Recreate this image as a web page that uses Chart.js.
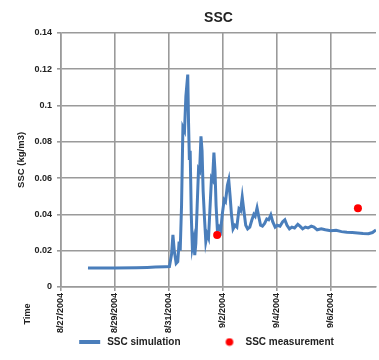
<!DOCTYPE html>
<html>
<head>
<meta charset="utf-8">
<script src="https://cdn.jsdelivr.net/npm/chart.js@4.4.1/dist/chart.umd.min.js"></script>
<style>
  html, body { margin: 0; padding: 0; background: #fff; overflow: hidden; }
  #wrap { width: 380px; height: 360px; }
</style>
</head>
<body>
<div id="wrap"><canvas id="sscChart"></canvas></div>
<script>
// Dados do gráfico (x em dias desde 8/27/2004)
const xTickLabels = ['8/27/2004', '8/29/2004', '8/31/2004', '9/2/2004', '9/4/2004', '9/6/2004'];
const yTickLabels = ['0', '0.02', '0.04', '0.06', '0.08', '0.1', '0.12', '0.14'];

const simDays = [
    1.00, 2.00, 2.80, 3.20, 3.50, 3.85, 4.02, 4.10, 4.15, 4.20,
    4.27, 4.33, 4.38, 4.42, 4.47, 4.52, 4.58, 4.63, 4.70, 4.73,
    4.76, 4.79, 4.83, 4.87, 4.92, 4.96, 5.00, 5.05, 5.10, 5.14,
    5.19, 5.23, 5.27, 5.32, 5.37, 5.42, 5.47, 5.52, 5.58, 5.62,
    5.67, 5.71, 5.75, 5.80, 5.86, 5.92, 5.98, 6.05, 6.10, 6.17,
    6.22, 6.27, 6.32, 6.38, 6.45, 6.52, 6.60, 6.66, 6.72, 6.78,
    6.85, 6.92, 7.00, 7.08, 7.15, 7.20, 7.27, 7.33, 7.40, 7.47,
    7.55, 7.63, 7.70, 7.78, 7.85, 7.94, 8.02, 8.12, 8.22, 8.30,
    8.38, 8.47, 8.56, 8.66, 8.78, 8.86, 8.96, 9.06, 9.16, 9.28,
    9.38, 9.50, 9.65, 9.80, 10.00, 10.20, 10.40, 10.60, 10.80, 11.00,
    11.20, 11.40, 11.55, 11.68
];
const simValues = [
    0.0105, 0.0104, 0.0106, 0.0108, 0.0110, 0.0112, 0.0113, 0.0180, 0.0287, 0.0200,
    0.0130, 0.0140, 0.0250, 0.0200, 0.0450, 0.0880, 0.0860, 0.1050, 0.1170, 0.0900,
    0.0700, 0.0750, 0.0400, 0.0220, 0.0260, 0.0176, 0.0240, 0.0450, 0.0650, 0.0640,
    0.0830, 0.0750, 0.0530, 0.0380, 0.0250, 0.0290, 0.0270, 0.0420, 0.0600, 0.0590,
    0.0740, 0.0640, 0.0450, 0.0310, 0.0330, 0.0310, 0.0400, 0.0480, 0.0470, 0.0560,
    0.0590, 0.0500, 0.0400, 0.0320, 0.0340, 0.0330, 0.0430, 0.0420, 0.0495, 0.0420,
    0.0340, 0.0320, 0.0330, 0.0370, 0.0400, 0.0390, 0.0435, 0.0390, 0.0340, 0.0335,
    0.0350, 0.0375, 0.0370, 0.0397, 0.0360, 0.0330, 0.0340, 0.0335, 0.0360, 0.0370,
    0.0340, 0.0320, 0.0330, 0.0325, 0.0345, 0.0335, 0.0320, 0.0330, 0.0325, 0.0335,
    0.0330, 0.0315, 0.0320, 0.0315, 0.0310, 0.0312, 0.0305, 0.0302, 0.0300, 0.0298,
    0.0295, 0.0293, 0.0300, 0.0314
];

const measDays = [5.79, 11.01];
const measValues = [0.0287, 0.0434];

const simColor = '#4a7ebb';
const measColor = '#ff0000';
const gridColor = '#9a9a9a';
const textColor = '#222';
const fontFamily = '"Liberation Sans", Arial, sans-serif';

// Ícones da legenda (canvas largo para dar o espaçamento do original)
function makeLineIcon() {
    const c = document.createElement('canvas');
    c.width = 56; c.height = 4;
    const g = c.getContext('2d');
    g.fillStyle = simColor;
    g.fillRect(33, 0, 21, 4);
    return c;
}
function makeDotIcon() {
    const c = document.createElement('canvas');
    c.width = 56; c.height = 9;
    const g = c.getContext('2d');
    g.fillStyle = measColor;
    g.beginPath();
    g.arc(45, 4.5, 3.8, 0, Math.PI * 2);
    g.fill();
    return c;
}
const legendIcons = [makeLineIcon(), makeDotIcon()];

// Título "Time" do eixo x, na vertical à esquerda
const timeLabelPlugin = {
    id: 'timeLabel',
    afterDraw(chart) {
        const xs = chart.scales.x;
        const ctx = chart.ctx;
        ctx.save();
        ctx.translate(xs.left - 33, xs.top + 27);
        ctx.rotate(-Math.PI / 2);
        ctx.font = 'bold 9px ' + fontFamily;
        ctx.fillStyle = textColor;
        ctx.textAlign = 'center';
        ctx.textBaseline = 'middle';
        ctx.fillText('Time', 0, 0);
        ctx.restore();
    }
};

const ctx = document.getElementById('sscChart');
new Chart(ctx, {
    data: {
        datasets: [{
            type: 'line',
            label: 'SSC simulation',
            data: simDays.map((d, i) => ({ x: d, y: simValues[i] })),
            borderColor: simColor,
            backgroundColor: simColor,
            borderWidth: 3,
            pointRadius: 0,
            tension: 0,
            order: 2
        }, {
            type: 'scatter',
            label: 'SSC measurement',
            data: measDays.map((d, i) => ({ x: d, y: measValues[i] })),
            backgroundColor: measColor,
            borderColor: measColor,
            borderWidth: 0,
            pointRadius: 4,
            order: 1
        }]
    },
    options: {
        responsive: true,
        maintainAspectRatio: false,
        animation: false,
        layout: { padding: { top: 0, right: 0, bottom: 3, left: 0 } },
        plugins: {
            title: {
                display: true,
                text: 'SSC',
                fullSize: false,
                color: textColor,
                font: { family: fontFamily, size: 14, weight: 'bold' },
                padding: { top: 10, bottom: 6 }
            },
            legend: {
                position: 'bottom',
                labels: {
                    usePointStyle: true,
                    pointStyleWidth: 56,
                    padding: 4,
                    color: textColor,
                    font: { family: fontFamily, size: 10, weight: 'bold' },
                    sort: (a, b) => a.datasetIndex - b.datasetIndex,
                    generateLabels(chart) {
                        const items = Chart.defaults.plugins.legend.labels.generateLabels(chart);
                        items.forEach(it => { it.pointStyle = legendIcons[it.datasetIndex]; });
                        return items;
                    }
                }
            },
            tooltip: { enabled: false }
        },
        scales: {
            x: {
                type: 'linear',
                min: 0,
                max: 11.68,
                afterFit(scale) { scale.height = 46; },
                grid: { color: gridColor, lineWidth: 1.6, tickLength: 4 },
                border: { color: gridColor, width: 1.6 },
                ticks: {
                    stepSize: 2,
                    includeBounds: false,
                    minRotation: 90,
                    maxRotation: 90,
                    padding: 2,
                    color: textColor,
                    font: { family: fontFamily, size: 9, weight: 'bold' },
                    callback: (v, i) => xTickLabels[i] || ''
                }
            },
            y: {
                min: 0,
                max: 0.14,
                afterFit(scale) { scale.width = 61; },
                grid: { color: gridColor, lineWidth: 1.6, tickLength: 4 },
                border: { color: gridColor, width: 1.6 },
                title: {
                    display: true,
                    text: 'SSC (kg/m3)',
                    color: textColor,
                    font: { family: fontFamily, size: 9.5, weight: 'bold' },
                    padding: { top: 16 }
                },
                ticks: {
                    stepSize: 0.02,
                    padding: 5,
                    color: textColor,
                    font: { family: fontFamily, size: 9, weight: 'bold' },
                    callback: (v, i) => yTickLabels[i]
                }
            }
        }
    },
    plugins: [timeLabelPlugin]
});
</script>
</body>
</html>
